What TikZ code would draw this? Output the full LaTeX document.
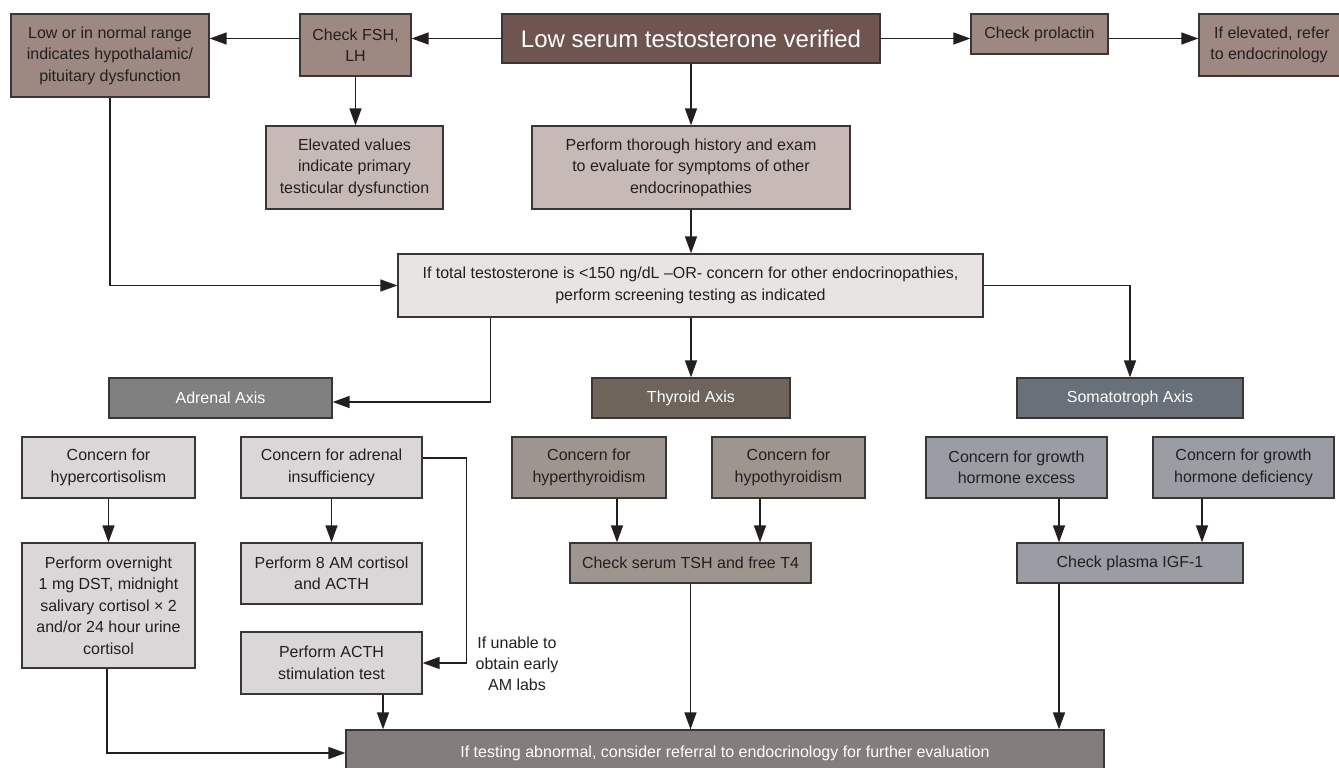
\documentclass[tikz,border=0pt]{standalone}
\usepackage{fontspec}
\setmainfont{Liberation Sans}
\usetikzlibrary{arrows.meta}
\definecolor{txt}{HTML}{231F20}
\definecolor{titlec}{HTML}{6F5550}
\definecolor{brownA}{HTML}{9D8982}
\definecolor{brownL}{HTML}{C7BAB6}
\definecolor{screenc}{HTML}{E9E4E4}
\definecolor{adrax}{HTML}{808080}
\definecolor{thyax}{HTML}{6F645B}
\definecolor{somax}{HTML}{68707A}
\definecolor{adrsub}{HTML}{D9D7D8}
\definecolor{thysub}{HTML}{9E958F}
\definecolor{somsub}{HTML}{9A9DA3}
\definecolor{botc}{HTML}{837E7B}
\definecolor{edge}{HTML}{3A3636}
\tikzset{
  bx/.style={draw=edge, line width=1.3pt, inner sep=0pt, align=center, text=txt,
    font=\fontsize{16}{21.5}\selectfont},
  wt/.style={text=white},
  arr/.style={draw=txt, line width=1.5pt, -{Triangle[length=17pt,width=12pt]}},
}
\newcommand\bx[7]{\node[bx,#6, minimum width={#4-#2}, minimum height={#5-#3}] (#1) at ({(#2+#4)/2},{(#3+#5)/2}) {#7};}
\begin{document}
\begin{tikzpicture}[x=1pt,y=-1pt]
\useasboundingbox[fill=white] (0,0) rectangle (1339,768);
% top row
\bx{title}{502}{14}{880}{63}{fill=titlec,wt,font=\fontsize{24}{27}\selectfont}{Low serum testosterone verified}
\bx{fsh}{300}{14}{411}{76}{fill=brownA}{Check FSH,\\LH}
\bx{low}{11}{14}{209}{97}{fill=brownA}{Low or in normal range\\indicates hypothalamic/\\pituitary dysfunction}
\bx{prol}{971}{14}{1108}{54}{fill=brownA}{Check prolactin}
\bx{elev}{1199}{14}{1345}{76}{fill=brownA}{If elevated, refer\\to endocrinology\hspace*{6pt}}
\bx{elevv}{266}{126}{443}{209}{fill=brownL}{Elevated values\\indicate primary\\testicular dysfunction}
\bx{hist}{532}{126}{850}{209}{fill=brownL}{Perform thorough history and exam\\to evaluate for symptoms of other\\endocrinopathies}
\bx{screen}{398}{254}{983}{317}{fill=screenc}{If total testosterone is <150 ng/dL –OR- concern for other endocrinopathies,\\perform screening testing as indicated}
% axes
\bx{adr}{109}{378}{332}{418}{fill=adrax,wt}{Adrenal Axis}
\bx{thy}{592}{378}{790}{418}{fill=thyax,wt}{Thyroid Axis}
\bx{som}{1017}{378}{1243}{418}{fill=somax,wt}{Somatotroph Axis}
% adrenal
\bx{hcort}{22}{437}{195}{498}{fill=adrsub}{Concern for\\hypercortisolism}
\bx{ovn}{22}{543}{195}{668}{fill=adrsub}{Perform overnight\\1 mg DST, midnight\\salivary cortisol × 2\\and/or 24 hour urine\\cortisol}
\bx{ains}{241}{437}{422}{498}{fill=adrsub}{Concern for adrenal\\insufficiency}
\bx{am}{241}{543}{422}{604}{fill=adrsub}{Perform 8 AM cortisol\\and ACTH}
\bx{acth}{241}{632}{422}{694}{fill=adrsub}{Perform ACTH\\stimulation test}
% thyroid
\bx{hyper}{512}{437}{666}{498}{fill=thysub}{Concern for\\hyperthyroidism}
\bx{hypo}{712}{437}{865}{498}{fill=thysub}{Concern for\\hypothyroidism}
\bx{tsh}{570}{543}{811}{583}{fill=thysub}{Check serum TSH and free T4}
% somato
\bx{ghex}{926}{437}{1107}{498}{fill=somsub}{Concern for growth\\hormone excess}
\bx{ghdef}{1153}{437}{1334}{498}{fill=somsub}{Concern for growth\\hormone deficiency}
\bx{igf}{1017}{543}{1243}{583}{fill=somsub}{Check plasma IGF-1}
% bottom
\bx{bot}{346}{730}{1104}{776}{fill=botc,wt,font=\fontsize{16}{18}\selectfont}{\raisebox{2pt}{If testing abnormal, consider referral to endocrinology for further evaluation}}
\node[align=center, text=txt, font=\fontsize{16}{21}\selectfont, inner sep=0pt] (lab) at (517,664) {If unable to\\obtain early\\AM labs};
% connectors top
\draw[arr] (title.west) -- (title.west -| fsh.east);
\draw[arr] (fsh.west |- title.west) -- (low.east |- title.west);
\draw[arr] (title.east) -- (prol.west |- title.east);
\draw[arr] (prol.east |- title.east) -- (elev.west |- title.east);
\draw[arr] (fsh.south) -- (fsh.south |- elevv.north);
\draw[arr] (title.south) -- (title.south |- hist.north);
\draw[arr] (hist.south) -- (hist.south |- screen.north);
\draw[arr] (low.south) |- (screen.west);
% to axes
\draw[arr] ([xshift=-200pt]screen.south) |- ([yshift=-4pt]adr.east);
\draw[arr] (screen.south -| thy.north) -- (thy.north);
\draw[arr] (screen.east) -| (som.north);
% adrenal flows
\draw[arr] (hcort.south) -- (ovn.north);
\draw[arr] (ains.south) -- (am.north);
\draw[arr] ([yshift=9.5pt]ains.east) -- ++(44,0) |- (acth.east);
\draw[arr] ([xshift=51.5pt]acth.south) -- ([xshift=51.5pt]acth.south |- bot.north);
\draw[arr] ([xshift=-1.5pt]ovn.south) |- (bot.west);
% thyroid flows
\draw[arr] ([xshift=28pt]hyper.south) -- ([xshift=28pt]hyper.south |- tsh.north);
\draw[arr] ([xshift=-28.5pt]hypo.south) -- ([xshift=-28.5pt]hypo.south |- tsh.north);
\draw[arr] (tsh.south) -- (tsh.south |- bot.north);
% somato flows
\draw[arr] ([xshift=42.5pt]ghex.south) -- ([xshift=42.5pt]ghex.south |- igf.north);
\draw[arr] ([xshift=-41.5pt]ghdef.south) -- ([xshift=-41.5pt]ghdef.south |- igf.north);
\draw[arr] ([xshift=-71pt]igf.south) -- ([xshift=-71pt]igf.south |- bot.north);
\end{tikzpicture}
\end{document}
